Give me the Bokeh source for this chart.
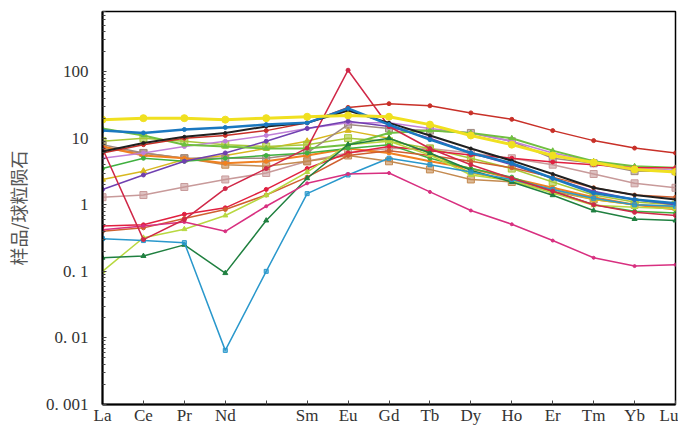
from bokeh.plotting import figure
from bokeh.models import FixedTicker, Range1d
from bokeh.embed import file_html
from bokeh.resources import INLINE

# ---------------- data ----------------
elements = ["La", "Ce", "Pr", "Nd", "", "Sm", "Eu", "Gd", "Tb", "Dy", "Ho", "Er", "Tm", "Yb", "Lu"]
y_ticks = [0.001, 0.01, 0.1, 1, 10, 100]
y_labels = ["0. 001", "0. 01", "0. 1", "1", "10", "100"]
y_title = "样品/球粒陨石"

s_yellow   = [19, 20, 20, 19, 20, 21, 22, 21, 16, 11, 8, 5.5, 4.3, 3.4, 3.1]
s_blue     = [13, 12, 13.5, 14.5, 16, 17, 28, 16, 9.5, 6, 4.2, 2.5, 1.5, 1.2, 1.05]
s_black    = [6.3, 8.5, 10.5, 12, 15, 17, 26, 17, 11, 7, 4.6, 2.9, 1.8, 1.4, 1.2]
s_darkred  = [6, 8, 10, 11, 13, 17, 29, 33, 30.7, 24, 19.2, 13, 9.2, 7.1, 6.0]
s_spike    = [7.0, 0.3, 0.6, 1.75, 3.5, 7.1, 105, 15, 7, 4, 2.5, 1.6, 1.0, 0.77, 0.69]
s_magenta  = [0.42, 0.48, 0.55, 0.4, 0.95, 2.1, 2.9, 3.0, 1.56, 0.82, 0.51, 0.29, 0.16, 0.12, 0.126]
s_cyan     = [0.31, 0.29, 0.27, 0.0065, 0.1, 1.47, 2.8, 5.0, 4.0, 3.1, 2.4, 1.7, 1.25, 1.0, 0.95]
s_dkgreen  = [0.16, 0.17, 0.25, 0.094, 0.58, 2.5, 8, 10, 6, 3.3, 2.2, 1.39, 0.82, 0.61, 0.58]
s_ltgreen  = [0.1, 0.32, 0.43, 0.69, 1.39, 3.1, 8, 9, 5.6, 2.8, 2.3, 1.5, 0.98, 0.92, 0.87]
s_red      = [0.48, 0.5, 0.72, 0.9, 1.7, 3.5, 6, 7.5, 6.5, 5.6, 5, 4.4, 4, 3.6, 3.6]
s_orbrown  = [0.4, 0.45, 0.62, 0.85, 1.4, 2.6, 5.5, 6.5, 5.5, 4.5, 3.6, 2.6, 1.8, 1.4, 1.3]
s_purple   = [1.7, 2.8, 4.5, 6, 9, 14, 18, 15, 10, 6, 4, 2.5, 1.6, 1.2, 1.0]
s_lavender = [5, 6, 7.5, 9, 11, 14, 17, 17, 14, 12, 9, 6, 4.5, 3.5, 3.3]
s_rosy     = [1.3, 1.4, 1.85, 2.4, 3, 4.5, 6, 7, 7, 6, 5, 4, 2.9, 2.1, 1.8]
s_green    = [14, 11, 8, 7.5, 7, 7, 8, 12, 13, 12, 10, 6.5, 4.5, 3.8, 3.6]
s_gray     = [8, 6, 5, 5, 5, 6, 16, 14, 13, 12, 9, 5, 4.2, 3.2, 3.2]
s_orange   = [7.5, 5.5, 5, 4.2, 4.5, 5.5, 7, 6, 4.5, 3.5, 2.5, 1.8, 1.3, 1.0, 0.85]
s_medgreen = [3.5, 5, 4.5, 5, 5.5, 6, 7, 8, 5, 3.5, 2.6, 1.6, 1.0, 0.8, 0.75]
s_tan      = [7, 6, 5, 4, 3.8, 4.5, 5.5, 4.5, 3.4, 2.4, 2.2, 1.6, 1.2, 1.0, 0.95]
s_olive    = [2.4, 3.2, 4.8, 5.5, 7, 9, 13, 10, 6, 3, 2.3, 1.7, 1.2, 1.0, 0.9]
s_yelgreen = [9, 10, 9, 8, 7.5, 8, 10, 9, 7, 5, 3.5, 2.2, 1.4, 1.1, 1.0]

# ---------------- styles ----------------
styles = [
    (s_rosy,     "#c89a9a", "square",   1.5, 7),
    (s_tan,      "#c48a50", "square",   1.5, 7),
    (s_olive,    "#d8b820", "triangle", 1.5, 6),
    (s_yelgreen, "#a8c838", "square",   1.5, 7),
    (s_gray,     "#a08a80", "square",   1.5, 7),
    (s_orange,   "#f08020", "circle",   2.0, 4),
    (s_medgreen, "#40b040", "circle",   1.5, 4),
    (s_lavender, "#c080d8", "circle",   1.5, 4),
    (s_purple,   "#7040b0", "circle",   1.5, 4),
    (s_green,    "#70c040", "triangle", 2.0, 5),
    (s_red,      "#e02040", "circle",   1.5, 4),
    (s_orbrown,  "#d06030", "circle",   1.5, 4),
    (s_ltgreen,  "#b8d840", "triangle", 1.5, 5),
    (s_dkgreen,  "#208040", "triangle", 1.5, 5),
    (s_cyan,     "#2a98cc", "square",   1.5, 4),
    (s_magenta,  "#d83080", "circle",   1.5, 3),
    (s_spike,    "#d02848", "circle",   1.5, 4),
    (s_darkred,  "#c83028", "circle",   1.5, 4),
    (s_black,    "#202020", "circle",   2.0, 3),
    (s_blue,     "#1a78c0", "circle",   2.5, 4),
    (s_yellow,   "#f0e020", "circle",   3.0, 7),
]

x = list(range(len(elements)))

p = figure(width=678, height=427, y_axis_type="log",
           x_range=Range1d(0, len(elements) - 1), y_range=Range1d(0.001, 800),
           output_backend="svg", toolbar_location=None,
           min_border_left=102, min_border_right=3, min_border_top=11, min_border_bottom=18)

for vals, color, marker, lw, size in styles:
    p.line(x, vals, line_color=color, line_width=lw)
    p.scatter(x, vals, marker=marker, size=size, fill_color=color, line_color=color,
              fill_alpha=0.6 if marker == "square" else 1.0)

p.xgrid.visible = False
p.ygrid.visible = False
p.outline_line_color = "black"
p.outline_line_width = 1.5
p.outline_line_alpha = 1

p.xaxis.ticker = FixedTicker(ticks=x)
p.xaxis.major_label_overrides = {i: lab for i, lab in zip(x, elements)}
p.yaxis.ticker = FixedTicker(ticks=y_ticks,
                             minor_ticks=[m * 10.0 ** k for k in range(-3, 3) for m in range(2, 10)])
p.yaxis.major_label_overrides = dict(zip(y_ticks, y_labels))

for ax in (p.xaxis[0], p.yaxis[0]):
    ax.axis_line_width = 2
    ax.axis_line_color = "black"
    ax.major_tick_in = 4
    ax.major_tick_out = 0
    ax.minor_tick_in = 3
    ax.minor_tick_out = 0
    ax.major_tick_line_color = "#444444"
    ax.minor_tick_line_color = "#444444"
    ax.major_label_text_font = "Liberation Serif"
    ax.major_label_text_font_size = "17px"
    ax.major_label_text_color = "#333333"

p.xaxis.major_label_standoff = 1
p.yaxis.major_label_standoff = 14
p.yaxis.axis_label = y_title
p.yaxis.axis_label_text_font = "Noto Sans CJK SC"
p.yaxis.axis_label_text_font_size = "18px"
p.yaxis.axis_label_text_font_style = "normal"
p.yaxis.axis_label_text_color = "#555555"
p.yaxis.axis_label_standoff = 12

open("out.html", "w").write(file_html(p, INLINE))
